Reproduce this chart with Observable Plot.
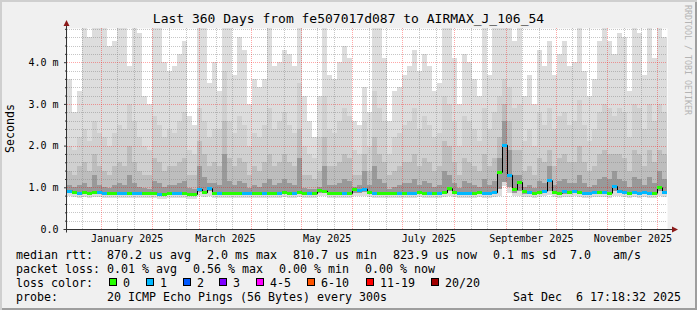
<!DOCTYPE html>
<html><head><meta charset="utf-8">
<script src="https://cdn.jsdelivr.net/npm/d3@7"></script>
<script src="https://cdn.jsdelivr.net/npm/@observablehq/plot@0.6"></script>
<style>
body{margin:0;background:#fff}
#frame{position:relative;width:697px;height:310px;background:#f0f0f0;overflow:hidden;
  box-shadow:inset 2px 2px 0 #cfcfcf, inset -2px -2px 0 #9e9e9e;
  font-family:"DejaVu Sans Mono",monospace;color:#000}
#chart{position:absolute;left:0;top:0}
.t{position:absolute;white-space:pre;font-size:11.63px;line-height:14px}
.box{position:absolute;width:6px;height:6px;border:1px solid #000}
#title{position:absolute;left:0;top:11px;width:697px;text-align:center;font-size:13px;line-height:16px;white-space:pre}
#ytitle{position:absolute;left:4px;top:104px;writing-mode:vertical-rl;transform:rotate(180deg);font-size:11.63px;line-height:12px}
#wm{position:absolute;left:683px;top:5px;writing-mode:vertical-rl;font-size:8.3px;line-height:10px;color:#b4b4b4}
</style>
</head><body>
<div id="frame"></div>
<script>
// ---------------- data (values in milliseconds, 3-day bins) ----------------
const titleText = "Last 360 Days from fe507017d087 to AIRMAX_J_106_54";
const yTitle = "Seconds";
const watermark = "RRDTOOL / TOBI OETIKER";
const yTicks = [0, 1, 2, 3, 4];

const pMax = [3.6,2.8,3.3,4.81,4.6,4.81,4.81,4.81,4.4,4.5,4.81,4.81,3.9,4.81,4.7,3.2,3.0,4.81,4.81,4.0,3.8,3.9,4.2,4.5,2.7,2.5,4.81,4.81,3.5,4.0,
  3.3,4.81,4.81,3.7,4.6,4.3,3.0,3.6,3.4,3.6,4.81,3.9,4.0,4.3,4.2,3.9,4.81,3.2,2.6,2.2,3.2,4.81,3.7,3.6,4.0,4.4,4.1,2.6,2.5,3.4,
  2.8,4.81,4.81,4.1,2.6,3.3,3.4,3.7,3.9,4.3,3.8,4.2,3.9,3.3,3.5,4.81,4.81,4.1,3.0,4.2,4.0,3.6,3.2,4.81,3.7,4.81,4.81,4.81,4.81,4.5,
  4.81,3.2,3.7,3.0,4.3,3.9,4.5,3.7,4.2,4.5,3.9,4.0,4.81,3.8,3.2,3.6,4.5,4.81,4.5,4.2,4.7,4.6,3.3,4.81,4.7,3.7,4.81,4.1,4.81,4.6];
const p90 = [2.0,1.9,2.2,2.4,2.1,2.6,2.3,2.2,2.0,2.3,2.5,2.4,3.0,2.6,2.2,2.0,1.9,2.7,2.5,2.2,2.4,2.3,2.6,2.8,1.9,1.8,2.9,2.6,2.2,2.4,
  2.4,3.8,2.6,2.3,2.7,2.5,2.0,2.3,2.2,2.5,2.9,2.4,2.6,2.8,2.5,2.3,3.5,2.0,1.8,1.7,2.2,3.2,2.4,2.3,2.6,2.9,2.7,1.9,1.8,2.6,
  2.0,3.3,2.9,2.6,1.8,2.2,2.3,2.5,2.6,2.9,2.4,2.7,2.5,2.2,2.3,3.2,3.0,2.6,2.0,2.7,2.6,2.4,2.1,2.9,2.4,2.8,3.2,3.6,3.4,2.9,
  3.0,2.1,2.4,2.0,2.8,2.5,2.9,2.4,2.7,2.8,2.5,2.6,3.1,2.5,2.1,2.4,2.8,3.0,2.9,2.7,2.9,2.8,2.2,3.0,2.9,2.4,3.0,2.6,3.0,2.8];
const p85 = [1.4,1.3,1.5,1.6,1.4,1.8,1.5,1.4,1.3,1.5,1.6,1.5,2.0,1.6,1.4,1.3,1.3,1.7,1.6,1.4,1.5,1.5,1.6,1.7,1.3,1.3,2.1,1.8,1.5,1.6,
  1.5,2.6,1.7,1.5,1.7,1.6,1.3,1.5,1.4,1.6,1.8,1.5,1.6,1.8,1.6,1.5,2.4,1.3,1.3,1.2,1.4,2.2,1.5,1.5,1.6,1.8,1.7,1.3,1.3,1.8,
  1.4,2.2,1.8,1.6,1.3,1.4,1.5,1.6,1.6,1.8,1.5,1.7,1.6,1.4,1.5,2.1,2.0,1.6,1.3,1.7,1.6,1.5,1.4,1.8,1.5,1.7,2.2,3.0,2.6,1.9,
  1.9,1.4,1.5,1.3,1.7,1.6,1.9,1.5,1.7,1.8,1.6,1.6,2.0,1.6,1.4,1.5,1.8,1.9,1.8,1.8,1.8,1.7,1.4,1.9,1.8,1.5,1.9,1.6,1.9,1.8];
const p75 = [1.05,1.0,1.05,1.1,1.0,1.3,1.05,1.0,0.98,1.05,1.1,1.05,1.3,1.1,1.0,0.98,0.97,1.15,1.1,1.0,1.05,1.05,1.1,1.15,0.98,0.97,1.5,1.25,1.1,1.1,
  1.05,1.8,1.15,1.05,1.15,1.1,0.98,1.05,1.0,1.1,1.2,1.05,1.1,1.2,1.1,1.05,1.7,0.98,0.97,0.96,1.0,1.5,1.05,1.05,1.1,1.2,1.15,1.0,1.05,1.4,
  1.05,1.5,1.2,1.1,0.97,1.0,1.05,1.1,1.1,1.2,1.05,1.15,1.1,1.0,1.05,1.4,1.3,1.1,0.98,1.15,1.1,1.05,1.0,1.2,1.05,1.15,1.7,2.6,1.9,1.3,
  1.3,1.0,1.05,0.98,1.15,1.1,1.5,1.05,1.15,1.2,1.1,1.1,1.3,1.1,1.0,1.05,1.2,1.25,1.2,1.4,1.2,1.15,1.0,1.25,1.2,1.05,1.25,1.1,1.4,1.2];
const median = [0.92,0.88,0.87,0.88,0.87,0.88,0.89,0.87,0.87,0.86,0.87,0.87,0.86,0.87,0.86,0.87,0.86,0.87,0.85,0.85,0.86,0.87,0.86,0.86,0.84,0.84,0.96,0.88,0.98,0.86,
  0.87,0.87,0.87,0.86,0.87,0.87,0.86,0.86,0.87,0.87,0.87,0.86,0.87,0.88,0.87,0.87,0.89,0.87,0.86,0.86,0.93,0.92,0.87,0.86,0.87,0.87,0.86,0.95,0.93,0.97,
  0.88,0.87,0.87,0.87,0.86,0.87,0.87,0.87,0.86,0.87,0.88,0.87,0.86,0.87,0.87,0.88,0.98,0.88,0.87,0.87,0.87,0.87,0.88,0.87,0.87,0.88,1.37,2.02,1.30,0.95,
  1.13,0.90,0.88,0.87,0.88,0.92,1.17,0.88,0.87,0.91,0.88,0.92,0.88,0.87,0.87,0.88,0.88,0.88,0.87,1.03,0.92,0.88,0.87,0.88,0.87,0.88,0.87,0.87,1.0,0.88];
const p25 = [0.86,0.84,0.83,0.84,0.83,0.84,0.85,0.83,0.83,0.82,0.83,0.83,0.82,0.83,0.82,0.83,0.82,0.83,0.81,0.81,0.82,0.83,0.82,0.82,0.8,0.8,0.88,0.84,0.9,0.82,
  0.83,0.83,0.83,0.82,0.83,0.83,0.82,0.82,0.83,0.83,0.83,0.82,0.83,0.84,0.83,0.83,0.84,0.83,0.82,0.82,0.86,0.86,0.83,0.82,0.83,0.83,0.82,0.87,0.86,0.88,
  0.84,0.83,0.83,0.83,0.82,0.83,0.83,0.83,0.82,0.83,0.84,0.83,0.82,0.83,0.83,0.84,0.9,0.84,0.83,0.83,0.83,0.83,0.84,0.83,0.83,0.84,0.95,1.12,1.0,0.86,
  0.9,0.85,0.84,0.83,0.84,0.86,0.9,0.84,0.83,0.85,0.84,0.86,0.84,0.83,0.83,0.84,0.84,0.84,0.83,0.9,0.86,0.84,0.83,0.84,0.83,0.84,0.83,0.83,0.9,0.84];
const pMin = [0.79,0.76,0.75,0.76,0.75,0.76,0.77,0.75,0.75,0.74,0.75,0.75,0.74,0.75,0.74,0.75,0.74,0.75,0.73,0.73,0.74,0.75,0.74,0.74,0.72,0.72,0.78,0.76,0.8,0.74,
  0.75,0.75,0.75,0.74,0.75,0.75,0.74,0.74,0.75,0.75,0.75,0.74,0.75,0.76,0.75,0.75,0.76,0.75,0.74,0.74,0.78,0.78,0.75,0.74,0.75,0.75,0.74,0.79,0.78,0.8,
  0.76,0.75,0.75,0.75,0.74,0.75,0.75,0.75,0.74,0.75,0.76,0.75,0.74,0.75,0.75,0.76,0.8,0.76,0.75,0.75,0.75,0.75,0.76,0.75,0.75,0.76,0.8,1.03,0.86,0.78,
  0.8,0.77,0.76,0.75,0.76,0.78,0.82,0.76,0.75,0.77,0.76,0.78,0.76,0.75,0.75,0.76,0.76,0.76,0.75,0.8,0.78,0.76,0.75,0.76,0.75,0.76,0.75,0.75,0.8,0.76];
const loss = [1,0,1,0,0,0,1,1,0,0,1,1,0,1,1,0,0,0,1,0,0,1,1,0,0,0,1,0,1,0,
  1,0,0,0,0,1,1,0,0,1,0,0,1,0,0,1,0,0,1,0,0,0,0,0,0,1,0,0,1,1,
  0,1,0,0,0,0,1,0,1,1,0,0,1,0,1,0,0,0,1,1,1,0,0,1,1,1,0,1,1,0,
  0,0,1,0,0,1,1,0,0,1,0,1,0,1,1,1,0,1,0,1,1,1,0,1,1,1,1,0,0,1];

const lossLabels = ["0","1","2","3","4-5","6-10","11-19","20/20"];
const lossColors = ["#26ff00","#00b8ff","#0059ff","#7e00ff","#ff00ff","#ff5500","#ff0000","#a10000"];
const lossUpper = [0,1,2,3,5,10,19,20];

const statRtt = ["median rtt:","870.2 us avg","2.0 ms max","810.7 us min","823.9 us now","0.1 ms sd","7.0","am/s"];
const statLoss = ["packet loss:","0.01 % avg","0.56 % max","0.00 % min","0.00 % now"];
const lossColorLabel = "loss color:";
const probeRow = ["probe:","20 ICMP Echo Pings (56 Bytes) every 300s","Sat Dec  6 17:18:32 2025"];

// ---------------- layout ----------------
const rttX = [16,107,207,293,393,493,570,613];
const lossX = [16,107,193,279,365];
const boxX = [109,146,183,219,256,307,366,431];
const probeX = [16,107,513];
const rowBase = [259,273,287,301];

const DAY = 864e5;
const start = new Date(Date.UTC(2024,11,11,17,18,32));
const end = new Date(+start + 360*DAY);
const binDays = 3;
const bins = median.map((m,i)=>({
  t0:new Date(+start + i*binDays*DAY), t1:new Date(+start + (i+1)*binDays*DAY),
  pMin:pMin[i], p25:p25[i], med:m, p75:p75[i], p85:p85[i], p90:p90[i], pMax:pMax[i], loss:loss[i]
}));
const lossColor = l => lossColors[lossUpper.findIndex(u => l <= u)];

const monthStarts = d3.utcMonth.range(start, end);
const minorX = d3.utcDay.range(start, end).filter(d => d.getUTCDate()===11 || d.getUTCDate()===21);
const minorY = d3.range(1, 25).map(i => i/5).filter(v => Math.abs(v-Math.round(v))>1e-6);
const labelMonths = monthStarts.filter(d => d.getUTCMonth()%2===0);
const labelPos = labelMonths.map(d => new Date((+d + +d3.utcMonth.offset(d,1))/2));
const fmtMonth = d3.utcFormat("%B %Y");

const crisp = {shapeRendering:"crispEdges"};
const chart = Plot.plot({
  width:697, height:250, marginLeft:67, marginRight:30, marginTop:28, marginBottom:21,
  style:{background:"transparent", fontFamily:"'DejaVu Sans Mono', monospace", fontSize:"10px", color:"#000", overflow:"visible"},
  x:{type:"utc", domain:[start,end]},
  y:{domain:[0,4.82]},
  marks:[
    Plot.frame({fill:"white", stroke:"none"}),
    Plot.rect(bins,{x1:"t0",x2:"t1",y1:"pMin",y2:"pMax",fill:"#dddddd",...crisp}),
    Plot.rect(bins,{x1:"t0",x2:"t1",y1:"p25",y2:"p90",fill:"#d0d0d0",...crisp}),
    Plot.rect(bins,{x1:"t0",x2:"t1",y1:"p25",y2:"p85",fill:"#bdbdbd",...crisp}),
    Plot.rect(bins,{x1:"t0",x2:"t1",y1:"p25",y2:"p75",fill:"#999999",...crisp}),
    Plot.ruleY(minorY,{stroke:"#808080",strokeOpacity:0.45,strokeDasharray:"1,1",...crisp}),
    Plot.ruleX(minorX,{stroke:"#808080",strokeOpacity:0.45,strokeDasharray:"1,1",...crisp}),
    Plot.ruleY(yTicks.slice(1),{stroke:"#ff0000",strokeOpacity:0.35,strokeDasharray:"1,1",...crisp}),
    Plot.ruleX(monthStarts,{stroke:"#ff0000",strokeOpacity:0.35,strokeDasharray:"1,1",...crisp}),
    Plot.line(bins,{x:"t0",y:"med",curve:"step-after",stroke:"#000",strokeWidth:1}),
    Plot.ruleY(bins,{x1:"t0",x2:"t1",y:"med",stroke:d=>lossColor(d.loss),strokeWidth:3,...crisp}),
    Plot.axisY(minorY,{tickSize:2,tickFormat:()=>"",label:null,stroke:"#333"}),
    Plot.axisY(yTicks,{tickSize:3,tickPadding:6,label:null,stroke:"#333",
      tickFormat:d=>d===0?"0.0":d.toFixed(1)+" m"}),
    Plot.axisX(labelPos,{tickSize:0,tickPadding:5,label:null,tickFormat:fmtMonth})
  ]
});

// axes lines with arrows (positions from the scales)
const sx = chart.scale("x"), sy = chart.scale("y");
const ax = Math.round(sx.apply(start)) - 0.5, ay = Math.round(sy.apply(0)) + 0.5;
const xr = Math.round(sx.apply(end));
const ytop = Math.round(sy.apply(4.82));
const g = d3.select(chart).append("g");
g.append("line").attr("x1",ax).attr("x2",ax).attr("y1",ay+3).attr("y2",ytop-3).attr("stroke","#333");
g.append("line").attr("x1",ax-3).attr("x2",xr+6).attr("y1",ay).attr("y2",ay).attr("stroke","#333");
g.append("polygon").attr("points",`${ax-3},${ytop-2} ${ax+3},${ytop-2} ${ax},${ytop-8}`).attr("fill","#8b1a1a");
g.append("polygon").attr("points",`${xr+5},${ay-3} ${xr+5},${ay+3} ${xr+11},${ay}`).attr("fill","#8b1a1a");

const frame = document.getElementById("frame");
chart.id = "chart";
frame.appendChild(chart);

function addText(txt, x, base, cls="t"){
  const s = document.createElement("div");
  s.className = cls; s.textContent = txt;
  s.style.left = x + "px"; s.style.top = (base - 11) + "px";
  frame.appendChild(s);
}
const title = document.createElement("div"); title.id="title"; title.textContent = titleText; frame.appendChild(title);
const yt = document.createElement("div"); yt.id="ytitle"; yt.textContent = yTitle; frame.appendChild(yt);
const wm = document.createElement("div"); wm.id="wm"; wm.textContent = watermark; frame.appendChild(wm);

statRtt.forEach((t,i)=>addText(t, rttX[i], rowBase[0]));
statLoss.forEach((t,i)=>addText(t, lossX[i], rowBase[1]));
addText(lossColorLabel, 16, rowBase[2]);
lossLabels.forEach((t,i)=>{
  const b = document.createElement("div"); b.className="box";
  b.style.left = boxX[i]+"px"; b.style.top = (rowBase[2]-9)+"px"; b.style.background = lossColors[i];
  frame.appendChild(b);
  addText(t, boxX[i]+14, rowBase[2]);
});
probeRow.forEach((t,i)=>addText(t, probeX[i], rowBase[3]));
</script>
</body></html>
